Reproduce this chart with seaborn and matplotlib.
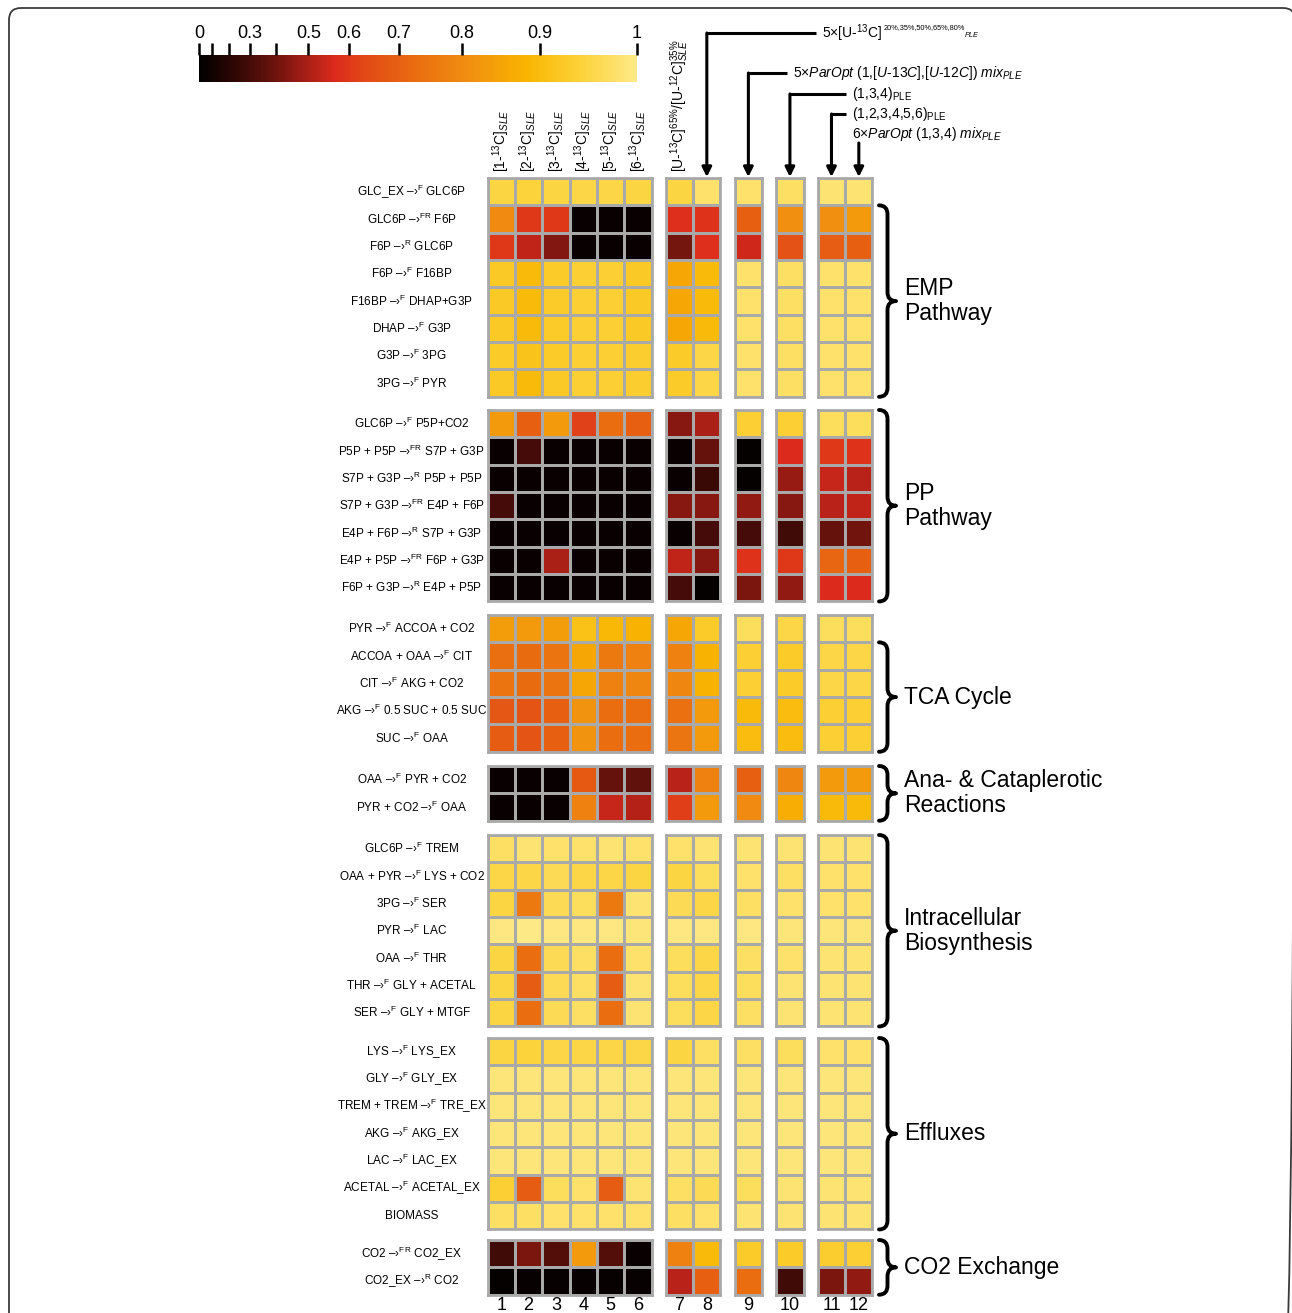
import numpy as np
import pandas as pd
import matplotlib
matplotlib.use("Agg")
import matplotlib.pyplot as plt
import seaborn as sns
from matplotlib.colors import LinearSegmentedColormap, FuncNorm
from matplotlib.cm import ScalarMappable
from matplotlib.path import Path
from matplotlib.patches import PathPatch, FancyBboxPatch

plt.rcParams["font.family"] = ["Liberation Sans", "DejaVu Sans"]
plt.rcParams["mathtext.fontset"] = "custom"
plt.rcParams["mathtext.rm"] = "Liberation Sans"
plt.rcParams["mathtext.it"] = "Liberation Sans:italic"
plt.rcParams["mathtext.bf"] = "Liberation Sans:bold"
plt.rcParams["mathtext.sf"] = "Liberation Sans"

# ---------------------------------------------------------------- data
col_numbers = [str(i) for i in range(1, 13)]
col_top_labels = [
    r"[1-$^{13}$C]$_{\mathit{SLE}}$",
    r"[2-$^{13}$C]$_{\mathit{SLE}}$",
    r"[3-$^{13}$C]$_{\mathit{SLE}}$",
    r"[4-$^{13}$C]$_{\mathit{SLE}}$",
    r"[5-$^{13}$C]$_{\mathit{SLE}}$",
    r"[6-$^{13}$C]$_{\mathit{SLE}}$",
    r"[U-$^{13}$C]$^{65\%}$/[U-$^{12}$C]$^{35\%}_{\mathit{SLE}}$",
    "", "", "", "", "",
]

emp_rxns = [("GLC_EX", "F", "GLC6P"), ("GLC6P", "FR", "F6P"), ("F6P", "R", "GLC6P"),
            ("F6P", "F", "F16BP"), ("F16BP", "F", "DHAP+G3P"), ("DHAP", "F", "G3P"),
            ("G3P", "F", "3PG"), ("3PG", "F", "PYR")]
pp_rxns = [("GLC6P", "F", "P5P+CO2"), ("P5P + P5P", "FR", "S7P + G3P"),
           ("S7P + G3P", "R", "P5P + P5P"), ("S7P + G3P", "FR", "E4P + F6P"),
           ("E4P + F6P", "R", "S7P + G3P"), ("E4P + P5P", "FR", "F6P + G3P"),
           ("F6P + G3P", "R", "E4P + P5P")]
tca_rxns = [("PYR", "F", "ACCOA + CO2"), ("ACCOA + OAA", "F", "CIT"),
            ("CIT", "F", "AKG + CO2"), ("AKG", "F", "0.5 SUC + 0.5 SUC"), ("SUC", "F", "OAA")]
ana_rxns = [("OAA", "F", "PYR + CO2"), ("PYR + CO2", "F", "OAA")]
bio_rxns = [("GLC6P", "F", "TREM"), ("OAA + PYR", "F", "LYS + CO2"), ("3PG", "F", "SER"),
            ("PYR", "F", "LAC"), ("OAA", "F", "THR"), ("THR", "F", "GLY + ACETAL"),
            ("SER", "F", "GLY + MTGF")]
eff_rxns = [("LYS", "F", "LYS_EX"), ("GLY", "F", "GLY_EX"), ("TREM + TREM", "F", "TRE_EX"),
            ("AKG", "F", "AKG_EX"), ("LAC", "F", "LAC_EX"), ("ACETAL", "F", "ACETAL_EX"),
            ("BIOMASS", None, None)]
co2_rxns = [("CO2", "FR", "CO2_EX"), ("CO2_EX", "R", "CO2")]

emp_vals = [
    [0.95, 0.945, 0.95, 0.955, 0.955, 0.95, 0.95, 0.98, 0.98, 0.975, 0.985, 0.985],
    [0.80, 0.60, 0.60, 0.06, 0.06, 0.06, 0.58, 0.59, 0.70, 0.81, 0.81, 0.83],
    [0.60, 0.53, 0.43, 0.06, 0.06, 0.06, 0.41, 0.58, 0.55, 0.66, 0.69, 0.70],
    [0.925, 0.895, 0.93, 0.94, 0.94, 0.925, 0.86, 0.895, 0.98, 0.975, 0.98, 0.98],
    [0.925, 0.895, 0.93, 0.94, 0.94, 0.925, 0.86, 0.895, 0.98, 0.975, 0.98, 0.98],
    [0.925, 0.895, 0.93, 0.94, 0.94, 0.925, 0.86, 0.895, 0.98, 0.975, 0.98, 0.98],
    [0.93, 0.915, 0.93, 0.94, 0.94, 0.935, 0.93, 0.955, 0.98, 0.975, 0.98, 0.98],
    [0.925, 0.895, 0.925, 0.94, 0.94, 0.935, 0.93, 0.955, 0.98, 0.975, 0.98, 0.98],
]
pp_vals = [
    [0.83, 0.70, 0.83, 0.62, 0.73, 0.70, 0.44, 0.50, 0.94, 0.94, 0.97, 0.97],
    [0.06, 0.30, 0.06, 0.06, 0.06, 0.06, 0.06, 0.38, 0.04, 0.57, 0.60, 0.59],
    [0.06, 0.06, 0.06, 0.06, 0.06, 0.06, 0.06, 0.26, 0.04, 0.47, 0.54, 0.52],
    [0.30, 0.06, 0.06, 0.06, 0.06, 0.06, 0.44, 0.44, 0.46, 0.44, 0.52, 0.53],
    [0.06, 0.06, 0.06, 0.06, 0.06, 0.06, 0.06, 0.30, 0.30, 0.28, 0.38, 0.40],
    [0.06, 0.06, 0.50, 0.06, 0.06, 0.06, 0.53, 0.44, 0.59, 0.60, 0.71, 0.70],
    [0.06, 0.06, 0.06, 0.06, 0.06, 0.06, 0.30, 0.04, 0.42, 0.46, 0.57, 0.57],
]
tca_vals = [
    [0.84, 0.83, 0.84, 0.91, 0.89, 0.88, 0.86, 0.93, 0.97, 0.955, 0.97, 0.97],
    [0.735, 0.725, 0.745, 0.86, 0.76, 0.78, 0.78, 0.88, 0.94, 0.93, 0.955, 0.955],
    [0.745, 0.725, 0.745, 0.86, 0.78, 0.79, 0.79, 0.88, 0.94, 0.93, 0.955, 0.955],
    [0.675, 0.665, 0.70, 0.82, 0.73, 0.73, 0.74, 0.83, 0.895, 0.90, 0.94, 0.94],
    [0.685, 0.665, 0.70, 0.82, 0.73, 0.73, 0.75, 0.83, 0.90, 0.90, 0.94, 0.94],
]
ana_vals = [
    [0.06, 0.06, 0.06, 0.68, 0.38, 0.37, 0.52, 0.78, 0.70, 0.79, 0.83, 0.83],
    [0.06, 0.06, 0.06, 0.78, 0.54, 0.51, 0.61, 0.83, 0.80, 0.87, 0.895, 0.895],
]
bio_vals = [
    [0.975, 0.985, 0.98, 0.98, 0.985, 0.98, 0.98, 0.985, 0.985, 0.985, 0.985, 0.985],
    [0.955, 0.955, 0.965, 0.955, 0.955, 0.95, 0.95, 0.97, 0.98, 0.975, 0.98, 0.98],
    [0.95, 0.76, 0.965, 0.97, 0.76, 0.985, 0.965, 0.955, 0.975, 0.98, 0.98, 0.98],
    [0.995, 1.0, 0.995, 0.995, 0.995, 0.99, 0.995, 0.995, 0.995, 0.99, 0.99, 0.99],
    [0.95, 0.73, 0.965, 0.975, 0.73, 0.98, 0.97, 0.955, 0.975, 0.98, 0.985, 0.985],
    [0.95, 0.685, 0.965, 0.975, 0.685, 0.985, 0.97, 0.955, 0.97, 0.985, 0.985, 0.985],
    [0.95, 0.73, 0.965, 0.975, 0.73, 0.985, 0.97, 0.955, 0.975, 0.985, 0.985, 0.985],
]
eff_vals = [
    [0.95, 0.945, 0.955, 0.955, 0.955, 0.955, 0.95, 0.975, 0.975, 0.97, 0.98, 0.98],
    [0.99, 0.99, 0.99, 0.99, 0.99, 0.99, 0.99, 0.99, 0.99, 0.99, 0.99, 0.99],
    [0.99, 0.99, 0.99, 0.99, 0.99, 0.99, 0.99, 0.99, 0.99, 0.99, 0.99, 0.99],
    [0.99, 0.99, 0.99, 0.99, 0.99, 0.99, 0.99, 0.99, 0.99, 0.99, 0.99, 0.99],
    [0.99, 0.99, 0.99, 0.99, 0.99, 0.99, 0.99, 0.99, 0.99, 0.99, 0.99, 0.99],
    [0.94, 0.685, 0.97, 0.98, 0.685, 0.985, 0.975, 0.965, 0.97, 0.985, 0.985, 0.985],
    [0.975, 0.975, 0.98, 0.98, 0.98, 0.98, 0.975, 0.98, 0.985, 0.985, 0.985, 0.985],
]
co2_vals = [
    [0.28, 0.42, 0.34, 0.83, 0.34, 0.06, 0.78, 0.895, 0.93, 0.93, 0.935, 0.94],
    [0.04, 0.05, 0.05, 0.05, 0.05, 0.05, 0.52, 0.70, 0.73, 0.28, 0.42, 0.46],
]

group_titles = ["EMP\nPathway", "PP\nPathway", "TCA Cycle", "Ana- & Cataplerotic\nReactions",
                "Intracellular\nBiosynthesis", "Effluxes", "CO2 Exchange"]
brace_skip = [1, 0, 1, 0, 0, 0, 0]

cbar_ticks = [0, 0.1, 0.2, 0.3, 0.4, 0.5, 0.6, 0.7, 0.8, 0.9, 1.0]
cbar_ticklabels = ["0", "", "", "0.3", "", "0.5", "0.6", "0.7", "0.8", "0.9", "1"]

HY = "\u2010"
# (target column, main text, small raised suffix, text x, text y)
design_labels = [
    (7, r"5×[U-$^{13}$C]", "20%,35%,50%,65%,80%", 822, 33),
    (8, r"5×$\mathit{ParOpt\ (1{,}[U" + HY + r"13C]{,}[U" + HY + r"12C])\ mix}_{\mathit{PLE}}$",
     None, 793, 73),
    (9, r"(1,3,4)$_{\mathrm{PLE}}$", None, 852, 94),
    (10, r"(1,2,3,4,5,6)$_{\mathrm{PLE}}$", None, 852, 114),
    (11, r"6×$\mathit{ParOpt\ (1{,}3{,}4)\ mix}_{\mathit{PLE}}$", None, 852, 134),
]

row_groups = [emp_vals, pp_vals, tca_vals, ana_vals, bio_vals, eff_vals, co2_vals]
row_rxns = [emp_rxns, pp_rxns, tca_rxns, ana_rxns, bio_rxns, eff_rxns, co2_rxns]
col_blocks = [6, 2, 1, 1, 2]

# ---------------------------------------------------------------- styling
W, H, DPI = 1292, 1313, 100
CELL = 27.35
COL_GAP = 14.2
X0 = 487.5
BLOCK_TOPS = [178, 410, 615, 766, 835, 1038, 1240]
GRID = "#a9a9a9"

K = 2.2
def fwd(v):
    v = np.clip(v, 0, 1)
    return (np.exp(K * v) - 1) / (np.exp(K) - 1)

def inv(p):
    p = np.clip(p, 0, 1)
    return np.log(p * (np.exp(K) - 1) + 1) / K

norm = FuncNorm((fwd, inv), vmin=0, vmax=1)
cmap = LinearSegmentedColormap.from_list("flux", [
    (0.00, "#000000"), (0.07, "#2a0604"), (0.15, "#5c100b"), (0.23, "#9c1c14"),
    (0.31, "#dc2a1c"), (0.38, "#e24a16"), (0.50, "#ea6e10"), (0.62, "#f19010"),
    (0.75, "#f9b500"), (0.87, "#fcd238"), (1.00, "#fee987")])


def rxn_label(lhs, direction, rhs):
    if direction is None:
        return lhs
    return lhs + r" –›$^{\mathrm{" + direction + r"}}$ " + rhs


fig = plt.figure(figsize=(W / DPI, H / DPI), dpi=DPI)


def px_axes(x, y, w, h):
    return fig.add_axes([x / W, 1 - (y + h) / H, w / W, h / H])


col_starts = np.cumsum([0] + col_blocks[:-1])
block_x = [X0 + i * COL_GAP + s * CELL for i, s in enumerate(col_starts)]
row_sizes = [len(g) for g in row_groups]
block_y = BLOCK_TOPS
Y0 = block_y[0]

col_center = []
for bi, (c0, n) in enumerate(zip(col_starts, col_blocks)):
    for k in range(n):
        col_center.append(block_x[bi] + (k + 0.5) * CELL)

for gi, (vals, rxns) in enumerate(zip(row_groups, row_rxns)):
    df = pd.DataFrame(vals, index=[rxn_label(*r) for r in rxns], columns=col_numbers)
    last = gi == len(row_groups) - 1
    for bi, (c0, n) in enumerate(zip(col_starts, col_blocks)):
        ax = px_axes(block_x[bi], block_y[gi], n * CELL, len(vals) * CELL)
        sub = df.iloc[:, c0:c0 + n]
        sns.heatmap(sub, ax=ax, cmap=cmap, norm=norm, cbar=False,
                    linewidths=2.0, linecolor=GRID,
                    xticklabels=last, yticklabels=(bi == 0))
        for sp in ax.spines.values():
            sp.set_visible(True)
            sp.set_color(GRID)
            sp.set_linewidth(2.0)
        ax.set_xlabel("")
        ax.set_ylabel("")
        ax.tick_params(axis="both", length=0)
        if bi == 0:
            ax.tick_params(axis="y", pad=54.5, labelsize=8.5)
            for t in ax.get_yticklabels():
                t.set_rotation(0)
                t.set_ha("center")
                t.set_va("center")
        if last:
            ax.tick_params(axis="x", pad=1.5, labelsize=13)
            for t in ax.get_xticklabels():
                t.set_rotation(0)
        if gi == 0:
            for k in range(n):
                lab = col_top_labels[c0 + k]
                if lab:
                    ax.annotate(lab, xy=(k + 0.5, 1), xycoords=("data", "axes fraction"),
                                xytext=(0, 4), textcoords="offset points",
                                rotation=90, ha="center", va="bottom", fontsize=10)

# colour bar
cax = px_axes(199, 55, 438, 27)
cb = fig.colorbar(ScalarMappable(norm=norm, cmap=cmap), cax=cax,
                  orientation="horizontal", ticklocation="top")
cb.outline.set_visible(False)
cb.set_ticks(cbar_ticks)
cb.set_ticklabels(cbar_ticklabels)
cb.minorticks_off()
cax.tick_params(length=9, width=1.8, pad=0.5, labelsize=13, color="black")

# annotation layer
ov = fig.add_axes([0, 0, 1, 1])
ov.set_xlim(0, W)
ov.set_ylim(H, 0)
ov.axis("off")
ov.patch.set_alpha(0)

ov.add_patch(FancyBboxPatch((9, 8), 1286, 1400, boxstyle="round,pad=0,rounding_size=12",
                            fill=False, lw=1.3, ec="#3a3a3a"))


def brace(x0, y_top, y_bot, w=17, r=9, lw=2.8):
    xm = x0 + w * 0.5
    ym = 0.5 * (y_top + y_bot)
    verts = [(x0, y_top), (xm, y_top), (xm, y_top + r),
             (xm, ym - r),
             (xm, ym), (x0 + w, ym),
             (xm, ym), (xm, ym + r),
             (xm, y_bot - r),
             (xm, y_bot), (x0, y_bot)]
    codes = [Path.MOVETO, Path.CURVE3, Path.CURVE3, Path.LINETO, Path.CURVE3, Path.CURVE3,
             Path.CURVE3, Path.CURVE3, Path.LINETO, Path.CURVE3, Path.CURVE3]
    ov.add_patch(PathPatch(Path(verts, codes), fill=False, lw=lw, ec="black",
                           capstyle="round", joinstyle="round"))
    return ym


for gi, title in enumerate(group_titles):
    y_top = block_y[gi] + brace_skip[gi] * CELL
    y_bot = block_y[gi] + row_sizes[gi] * CELL
    ym = brace(879, y_top, y_bot)
    ov.text(904, ym, title, ha="left", va="center", fontsize=16.5, linespacing=1.1)

for col, text, suffix, tx, ty in design_labels:
    xc = col_center[col]
    t = ov.text(tx, ty, text, ha="left", va="center", fontsize=10)
    if suffix:
        sup = ov.annotate(suffix, xy=(1, 1), xycoords=t, xytext=(0.5, -1.5),
                          textcoords="offset points", ha="left", va="top", fontsize=5.3)
        ov.annotate("PLE", xy=(1, 0), xycoords=sup, xytext=(0, -0.5),
                    textcoords="offset points", ha="left", va="top", fontsize=5.3,
                    fontstyle="italic")
    if tx - 6 > xc + 8:
        ov.plot([tx - 6, xc], [ty, ty], color="black", lw=2.2, solid_capstyle="butt")
        start = ty
    else:
        start = ty + 9
    ov.annotate("", xy=(xc, Y0 - 1), xytext=(xc, start),
                arrowprops=dict(arrowstyle="-|>", lw=2.2, color="black",
                                mutation_scale=14, shrinkA=0, shrinkB=0))

fig.savefig("out.png", dpi=DPI)
